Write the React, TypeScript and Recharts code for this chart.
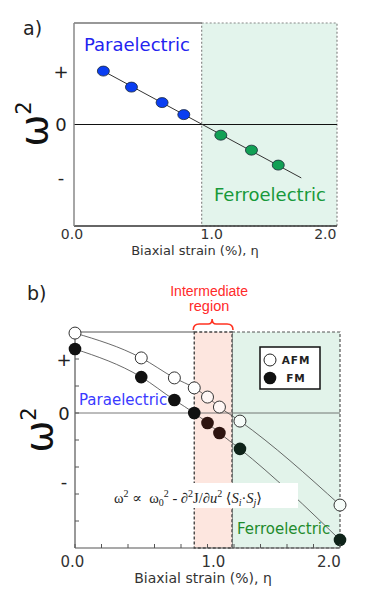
import React from "react";
import {
  ComposedChart,
  Line,
  ReferenceArea,
  ReferenceLine,
  Scatter,
  XAxis,
  YAxis,
} from "recharts";

// ---- panel a) ----
const paraStrainA = [0.23, 0.45, 0.69, 0.86];
const paraOmegaA = [1.0, 0.7, 0.41, 0.185];
const ferroStrainA = [1.15, 1.39, 1.6];
const ferroOmegaA = [-0.2, -0.48, -0.76];
const fitStrainA = [0.23, 1.78];
const fitOmegaA = [1.0, -1.0];
const ferroStartA = 1.0;
const xMaxA = 2.06;
const yLimA = 1.9;
const xTicksA = [0, 1, 2];
const yTicksA = [1, 0, -1];

// ---- panel b) ----
const strainB = [0, 0.5, 0.75, 0.9, 1.0, 1.09, 1.245, 2.0];
const afmB = [2.96, 2.04, 1.3, 0.93, 0.59, 0.22, -0.3, -3.41];
const fmB = [2.37, 1.33, 0.48, 0, -0.37, -0.74, -1.33, -4.7];
const interStartB = 0.9;
const interEndB = 1.185;
const xMaxB = 2.0;
const yMinB = -5;
const yMaxB = 3;
const xTicksB = [0, 0.2, 0.4, 0.6, 0.8, 1, 1.2, 1.4, 1.6, 1.8, 2];
const yTicksB = [-4, -3, -2.55, -2, -1, 0, 1, 2];
const legendNames = ["AFM", "FM"];

const yLabelsA: Record<string, string> = { "1": "+", "0": "0", "-1": "-" };
const yLabelsB: Record<string, string> = { "2": "+", "0": "0", "-2.55": "-" };

const SANS = "'DejaVu Sans', Verdana, sans-serif";
const pts = (xs: number[], ys: number[]) => xs.map((x, i) => ({ x, y: ys[i] }));

const paraA = pts(paraStrainA, paraOmegaA);
const ferroA = pts(ferroStrainA, ferroOmegaA);
const fitA = pts(fitStrainA, fitOmegaA);
const afmData = pts(strainB, afmB);
const fmData = pts(strainB, fmB);

// label nudges so the tick text sits where the original figure put it
const nudgeA: Record<string, number> = { "0": -2, "1": 10, "2": -4 };
const nudgeB: Record<string, number> = { "0": -2.5, "1": 6, "2": -11 };

const XTickA = ({ x, y, payload }: any) => (
  <text x={x + (nudgeA[String(payload.value)] ?? 0)} y={y + 13} textAnchor="middle"
    fontSize={14} fill="#333" fontFamily={SANS}>
    {payload.value.toFixed(1)}
  </text>
);

const YTickA = ({ x, y, payload }: any) => (
  <text x={x - 13} y={y + 6.5} textAnchor="middle" fontSize={18} fill="#222" fontFamily={SANS}>
    {yLabelsA[String(payload.value)]}
  </text>
);

const XTickB = ({ x, y, payload }: any) => {
  const v = payload.value;
  const major = Math.abs(v - Math.round(v)) < 1e-6;
  return (
    <g>
      <line x1={x} x2={x} y1={y} y2={y - 4} stroke="#555" strokeWidth={1} />
      {major && (
        <text x={x + (nudgeB[String(v)] ?? 0)} y={y + 19} textAnchor="middle"
          fontSize={15} fill="#333" fontFamily={SANS}>
          {v.toFixed(1)}
        </text>
      )}
    </g>
  );
};

const YTickB = ({ x, y, payload }: any) => {
  const v = payload.value;
  const isInt = Number.isInteger(v);
  const lab = yLabelsB[String(v)];
  return (
    <g>
      {isInt && <line x1={x} x2={x + 4} y1={y} y2={y} stroke="#555" strokeWidth={1} />}
      {lab && (
        <text x={x - 11} y={y + 6.5} textAnchor="middle" fontSize={18} fill="#222" fontFamily={SANS}>
          {lab}
        </text>
      )}
    </g>
  );
};

const ellipseDot = (fill: string) => (p: any) => (
  <ellipse cx={p.cx} cy={p.cy} rx={6} ry={5} fill={fill} stroke="#1c2836" strokeWidth={0.8} />
);

const fmFill = (x: number) => (x > interEndB ? "#0f2319" : x > interStartB + 0.01 ? "#2e1410" : "#111");
const afmFill = (x: number) => (x > interEndB ? "#f6fcf9" : x > interStartB + 0.01 ? "#fff7f5" : "#fff");

const FmDot = (p: any) => <circle cx={p.cx} cy={p.cy} r={6.3} fill={fmFill(p.payload?.x ?? 0)} />;
const AfmDot = (p: any) => (
  <circle cx={p.cx} cy={p.cy} r={6} fill={afmFill(p.payload?.x ?? 0)} stroke="#333" strokeWidth={1} />
);

const BracketLabel = ({ viewBox }: any) => {
  if (!viewBox) return null;
  const x0 = viewBox.x - 1;
  const x1 = viewBox.x + viewBox.width + 1;
  const mid = (x0 + x1) / 2 - 1;
  const b = viewBox.y;
  const d = `M ${x0} ${b - 2} Q ${x0} ${b - 8} ${x0 + 6} ${b - 8} L ${mid - 4} ${b - 8}
    Q ${mid} ${b - 8} ${mid} ${b - 13} Q ${mid} ${b - 8} ${mid + 4} ${b - 8}
    L ${x1 - 6} ${b - 8} Q ${x1} ${b - 8} ${x1} ${b - 2}`;
  return (
    <g>
      <path d={d} fill="none" stroke="#ff3322" strokeWidth={1.6} />
      <text x={mid - 3} y={b - 36} textAnchor="middle" fontSize={14} fill="#ff2a2a"
        fontFamily="'Liberation Sans', Arial, sans-serif">Intermediate</text>
      <text x={mid - 3} y={b - 21} textAnchor="middle" fontSize={14.5} fill="#ff2a2a"
        fontFamily="'Liberation Sans', Arial, sans-serif">region</text>
    </g>
  );
};

const Sup = ({ children }: any) => (
  <span style={{ fontSize: 10, position: "relative", top: -6 }}>{children}</span>
);
const Sub = ({ children }: any) => (
  <span style={{ fontSize: 10, position: "relative", top: 3 }}>{children}</span>
);

export default function App() {
  return (
    <div style={{ position: "fixed", left: 0, top: 0, width: 374, height: 603, background: "#fff", overflow: "hidden" }}>
      <div style={{ position: "absolute", left: 0, top: 0 }}>
        <ComposedChart width={374} height={265} margin={{ top: 23, right: 37, bottom: 0, left: 0 }}>
          <XAxis type="number" dataKey="x" domain={[0, xMaxA]} ticks={xTicksA} interval={0}
            tick={<XTickA />} tickLine={false} tickSize={0} tickMargin={0} height={39}
            axisLine={{ stroke: "#333", strokeWidth: 1.5 }} />
          <YAxis type="number" dataKey="y" domain={[-yLimA, yLimA]} ticks={yTicksA} interval={0}
            tick={<YTickA />} tickLine={false} tickSize={0} tickMargin={0} width={74}
            axisLine={{ stroke: "#888", strokeWidth: 1.5 }} />
          <ReferenceArea x1={ferroStartA} x2={xMaxA} y1={-yLimA} y2={yLimA}
            fill="#e3f4ec" fillOpacity={1} stroke="#888" strokeDasharray="2 2" strokeWidth={1.2} />
          <ReferenceLine segment={[{ x: 0, y: yLimA }, { x: ferroStartA, y: yLimA }]}
            stroke="#333" strokeWidth={1.2} />
          <ReferenceLine y={0} stroke="#111" strokeWidth={1.2} />
          <Line data={fitA} dataKey="y" type="linear" stroke="#333" strokeWidth={1}
            dot={false} isAnimationActive={false} />
          <Scatter data={paraA} dataKey="y" shape={ellipseDot("#0a3ef2")} isAnimationActive={false} />
          <Scatter data={ferroA} dataKey="y" shape={ellipseDot("#11a055")} isAnimationActive={false} />
        </ComposedChart>
      </div>

      <div style={{ position: "absolute", left: 0, top: 270 }}>
        <ComposedChart width={374} height={333} margin={{ top: 62, right: 34, bottom: 0, left: 0 }}>
          <XAxis type="number" dataKey="x" domain={[0, xMaxB]} ticks={xTicksB} interval={0}
            tick={<XTickB />} tickLine={false} tickSize={0} tickMargin={0} height={55}
            axisLine={{ stroke: "#555", strokeWidth: 1.2 }} />
          <YAxis type="number" dataKey="y" domain={[yMinB, yMaxB]} ticks={yTicksB} interval={0}
            tick={<YTickB />} tickLine={false} tickSize={0} tickMargin={0} width={75}
            axisLine={{ stroke: "#777", strokeWidth: 1.5 }} />
          <ReferenceArea x1={interEndB} x2={xMaxB} y1={yMinB} y2={yMaxB}
            fill="#e2f3ea" fillOpacity={1} stroke="#555" strokeDasharray="3 2" strokeWidth={1.2} />
          <ReferenceArea x1={interStartB} x2={interEndB} y1={yMinB} y2={yMaxB}
            fill="#fde6df" fillOpacity={1} stroke="#444" strokeDasharray="3 2" strokeWidth={1.4}
            label={<BracketLabel />} />
          <ReferenceLine segment={[{ x: 0, y: yMaxB }, { x: interStartB, y: yMaxB }]}
            stroke="#555" strokeWidth={1} />
          <ReferenceLine y={0} stroke="#555" strokeWidth={0.8} />
          <Line data={afmData} dataKey="y" type="monotone" stroke="#444" strokeWidth={0.8}
            dot={false} isAnimationActive={false} />
          <Line data={fmData} dataKey="y" type="monotone" stroke="#444" strokeWidth={0.8}
            dot={false} isAnimationActive={false} />
          <Scatter data={afmData} dataKey="y" shape={AfmDot} isAnimationActive={false} />
          <Scatter data={fmData} dataKey="y" shape={FmDot} isAnimationActive={false} />
        </ComposedChart>
      </div>

      <svg width={374} height={603} style={{ position: "absolute", left: 0, top: 0, pointerEvents: "none" }}
        fontFamily={SANS}>
        <text x={23} y={35} fontSize={19} fill="#222">a)</text>
        <text x={84} y={51} fontSize={18} fill="#2323f0">Paraelectric</text>
        <text x={214} y={201} fontSize={18} fill="#17993a">Ferroelectric</text>
        <text x={195} y={255} textAnchor="middle" fontSize={13} fill="#333">Biaxial strain (%), η</text>
        <text x={47} y={124} transform="rotate(-90 47 124)" textAnchor="middle" fontSize={38} fill="#111">
          ω<tspan fontSize={21} dy={-16}>2</tspan>
        </text>

        <text x={27} y={300} fontSize={19} fill="#222">b)</text>
        <text x={79} y={405} fontSize={15} fill="#3a3aff">Paraelectric</text>
        <text x={237} y={534} fontSize={15} fill="#1f8b2c">Ferroelectric</text>
        <text x={203} y={583} textAnchor="middle" fontSize={14} fill="#333">Biaxial strain (%), η</text>
        <text x={52} y={430} transform="rotate(-90 52 430)" textAnchor="middle" fontSize={38} fill="#111">
          ω<tspan fontSize={21} dy={-16}>2</tspan>
        </text>

        <rect x={260} y={347} width={60} height={42} fill="#fff" stroke="#111" strokeWidth={1.5} />
        <circle cx={270} cy={360} r={6} fill="#fff" stroke="#222" strokeWidth={1} />
        <circle cx={270} cy={378} r={6.3} fill="#111" />
        <text x={296} y={364} textAnchor="middle" fontSize={10.5} fontWeight="bold" letterSpacing={1} fill="#222">
          {legendNames[0]}
        </text>
        <text x={296} y={382} textAnchor="middle" fontSize={10.5} fontWeight="bold" letterSpacing={1} fill="#222">
          {legendNames[1]}
        </text>
      </svg>

      <div style={{
        position: "absolute", left: 112, top: 483, width: 186, height: 25, background: "#fff",
        fontFamily: "'Liberation Serif', 'DejaVu Serif', serif", fontSize: 14.5, color: "#222",
        lineHeight: "20px", paddingTop: 5, boxSizing: "border-box", whiteSpace: "nowrap", paddingLeft: 2,
      }}>
        ω<Sup>2</Sup> ∝&nbsp; ω<Sub>0</Sub><Sup>2</Sup> - ∂<Sup>2</Sup>J/∂<i>u</i><Sup>2</Sup> ⟨<i>S<Sub>i</Sub></i>·<i>S<Sub>j</Sub></i>⟩
      </div>
    </div>
  );
}
